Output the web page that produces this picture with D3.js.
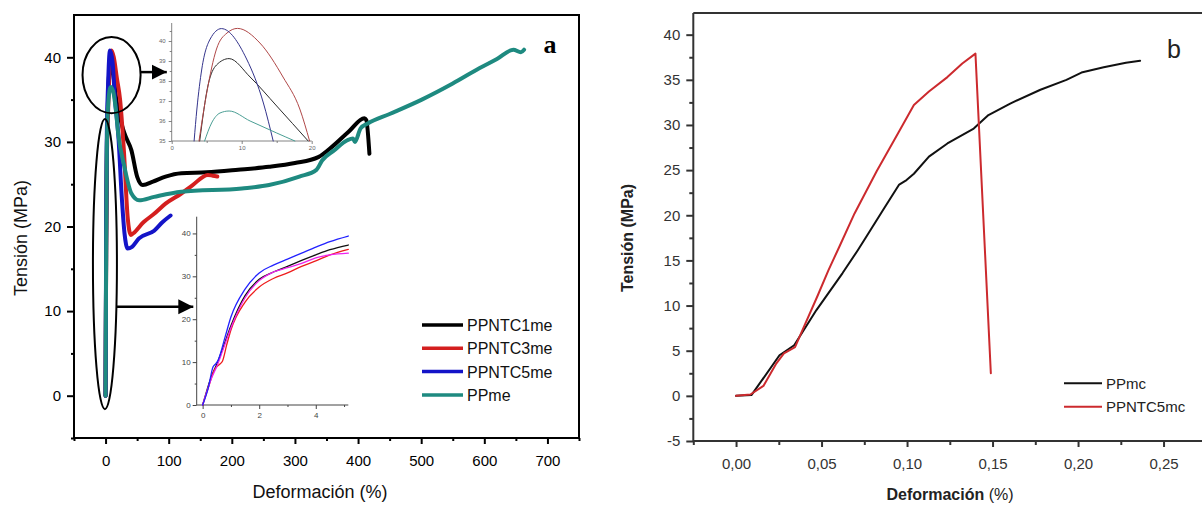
<!DOCTYPE html>
<html>
<head>
<meta charset="utf-8">
<script src="https://cdn.jsdelivr.net/npm/d3@7/dist/d3.min.js"></script>
<style>
  body { margin: 0; background: #fff; }
  text { font-family: "Liberation Sans", Arial, sans-serif; }
</style>
</head>
<body>
<svg id="chart" width="1202" height="506"></svg>
<script>
// ---- panel a: main curves (deformación %, tensión MPa)
const namesA = ["PPNTC1me", "PPNTC3me", "PPNTC5me", "PPme"];
const ppntc1me = [[0,0],[1,18.5],[2,29.3],[3,32.3],[5,37.3],[8,39.1],[12,38],[17,35],[30,31],[41,29],[50,25.9],[59,24.9],[75,25.3],[95,25.9],[120,26.3],[160,26.4],[210,26.7],[259,27.05],[300,27.5],[337,28.2],[360,29.5],[385,31.2],[410,32.8],[413,32.6],[418,28.6]];
const ppntc3me = [[0,0],[1,17.5],[2,27.5],[4,33.6],[6,38],[9.4,40.8],[13,40],[18,37.5],[23,35],[29,29],[35,21.1],[40,19],[44,19.2],[60,20.5],[77,21.5],[95,22.7],[120,23.9],[138,24.9],[162,26.1],[170,26],[177,25.9]];
const ppntc5me = [[0,0],[1,20.5],[2,30.8],[4,36.8],[7,40.8],[11,39.5],[15,35],[20,31],[26,23.1],[30,19.2],[35,17.4],[42,17.6],[53,18.6],[77,19.5],[90,20.5],[103,21.3]];
const ppme = [[0,0],[1,18],[2,29],[4,34.3],[8,36.5],[12,36],[16,34],[20,31],[30,27],[41,23.9],[53,23.1],[77,23.5],[120,24.1],[216,24.5],[259,24.9],[307,25.9],[334,26.7],[343,27.8],[362,29],[383,30.2],[392,30.4],[395,30],[404,31.6],[416,32.2],[450,33.3],[501,35],[550,36.9],[592,38.7],[620,39.8],[646,40.9],[658,40.6],[663,40.9]];
const xTicksA = [0, 100, 200, 300, 400, 500, 600, 700];
const yTicksA = [0, 10, 20, 30, 40];

// ---- panel a: zoom on peaks (top inset)
const peakBlack = [[4.0,35],[5.2,37.8],[6.4,38.8],[8.2,39.12],[11.2,38.2],[15,36.75],[19.5,35]];
const peakRed = [[3.9,35],[5,37.4],[6.4,39.6],[7.9,40.4],[9.4,40.63],[12.6,39.9],[15.9,38.2],[18.3,36.6],[19.7,35]];
const peakBlue = [[3.2,35],[3.6,36.6],[4.3,38.6],[5.5,40.1],[7.1,40.62],[10.7,39.1],[13.1,36.9],[14.5,35]];
const peakTeal = [[4.7,35],[5.7,35.9],[6.9,36.4],[8.2,36.5],[11.2,36.0],[15,35.4],[17.6,35]];
const xTicksPeak = [0, 10, 20];
const yTicksPeak = [35, 36, 37, 38, 39, 40];

// ---- panel a: zoom on elastic zone (bottom inset)
const initBlack = [[0,0],[0.3,6.5],[0.5,9.5],[0.7,13],[1,18.5],[1.5,25.5],[2,29.3],[2.5,31],[3,32.3],[3.5,33.7],[4,35],[4.5,36.2],[5.15,37.3]];
const initRed = [[0,0],[0.2,4],[0.4,8],[0.6,9.5],[0.7,10.2],[0.85,14],[1,17.5],[1.5,24],[2,27.5],[2.5,29.5],[3,30.8],[3.5,32.3],[4,33.6],[4.5,35],[5.15,36.3]];
const initBlue = [[0,0],[0.2,4],[0.37,8.9],[0.45,9.5],[0.55,10.5],[0.8,16],[1,20.5],[1.5,27],[2,30.8],[2.5,32.6],[3,34],[3.5,35.4],[4,36.8],[4.5,38.1],[5.15,39.4]];
const initMagenta = [[0,0],[0.3,6],[0.5,9],[0.7,12.5],[1,18],[1.5,25],[2,29],[2.5,31],[3,32],[3.5,33],[4,34.3],[4.5,35],[5.15,35.4]];
const xTicksInit = [0, 2, 4];
const yTicksInit = [0, 10, 20, 30, 40];

// ---- panel b
const namesB = ["PPmc", "PPNTC5mc"];
const ppmc = [[0,0],[0.0091,0.1],[0.0254,4.5],[0.034,5.6],[0.047,9.5],[0.0623,13.6],[0.0711,16.1],[0.0758,17.5],[0.0867,20.8],[0.0954,23.4],[0.0997,23.9],[0.104,24.6],[0.1128,26.5],[0.1236,27.95],[0.139,29.6],[0.1476,31.1],[0.1606,32.4],[0.178,33.9],[0.1932,35],[0.202,35.8],[0.215,36.4],[0.228,36.9],[0.2363,37.1]];
const ppntc5mc = [[0,0],[0.0084,0.15],[0.016,1.1],[0.0236,3.6],[0.028,4.7],[0.0345,5.4],[0.0389,7.3],[0.0475,11],[0.054,13.9],[0.0606,16.6],[0.0693,20.2],[0.0823,24.9],[0.0954,29.3],[0.104,32.2],[0.1128,33.7],[0.1236,35.3],[0.1323,36.8],[0.14,37.9],[0.149,2.5]];
const xTicksB = [0, 0.05, 0.10, 0.15, 0.20, 0.25];
const yTicksB = [-5, 0, 5, 10, 15, 20, 25, 30, 35, 40];

const svg = d3.select("#chart");

function styleAxis(g, color, width, fontSize) {
    g.select(".domain").remove();
    g.selectAll(".tick line").attr("stroke", color).attr("stroke-width", width);
    g.selectAll(".tick text").attr("fill", color).style("font-size", fontSize + "px");
}

function addAxis(gen, at, color, width, fontSize) {
    const g = svg.append("g").attr("transform", at).call(gen);
    styleAxis(g, color, width, fontSize);
    return g;
}

function drawLine(data, x, y, color, width, curve) {
    svg.append("path")
        .datum(data)
        .attr("fill", "none")
        .attr("stroke", color)
        .attr("stroke-width", width)
        .attr("stroke-linejoin", "round")
        .attr("stroke-linecap", "round")
        .attr("d", d3.line().x(d => x(d[0])).y(d => y(d[1])).curve(curve));
}

// =================== panel a ===================
const xA = d3.scaleLinear().domain([-50, 750]).range([74, 579]);
const yA = d3.scaleLinear().domain([-5, 45]).range([438, 15]);

svg.append("rect")
    .attr("x", xA(-50)).attr("y", yA(45))
    .attr("width", xA(750) - xA(-50)).attr("height", yA(-5) - yA(45))
    .attr("fill", "none").attr("stroke", "#000").attr("stroke-width", 2);

addAxis(d3.axisBottom(xA).tickValues(xTicksA).tickSize(6).tickPadding(11).tickFormat(d3.format("d")),
    `translate(0,${yA(-5)})`, "#000", 2, 15);
addAxis(d3.axisBottom(xA).tickValues(d3.range(-50, 751, 100)).tickSize(3).tickFormat(""),
    `translate(0,${yA(-5)})`, "#000", 2, 15);
addAxis(d3.axisLeft(yA).tickValues(yTicksA).tickSize(7).tickPadding(6).tickFormat(d3.format("d")),
    `translate(${xA(-50)},0)`, "#000", 2, 15);
addAxis(d3.axisLeft(yA).tickValues([-5, 5, 15, 25, 35]).tickSize(3).tickFormat(""),
    `translate(${xA(-50)},0)`, "#000", 2, 15);

svg.append("text")
    .attr("x", 320).attr("y", 498)
    .attr("text-anchor", "middle")
    .style("font-size", "18px").attr("fill", "#111")
    .text("Deformación (%)");
svg.append("text")
    .attr("transform", "translate(27,238) rotate(-90)")
    .attr("text-anchor", "middle")
    .style("font-size", "18px").attr("fill", "#111")
    .text("Tensión (MPa)");
svg.append("text")
    .attr("x", 550).attr("y", 53)
    .attr("text-anchor", "middle")
    .style("font-family", "'Liberation Serif', 'Times New Roman', serif")
    .style("font-weight", "bold").style("font-size", "26px")
    .text("a");

const colorsA = ["#000000", "#d41f1f", "#1414c8", "#1e8a80"];
[ppntc1me, ppntc3me, ppntc5me, ppme].forEach((s, i) =>
    drawLine(s, xA, yA, colorsA[i], 4, d3.curveMonotoneX));

// legend a
namesA.forEach((n, i) => {
    const ly = 325 + i * 23.3;
    svg.append("line")
        .attr("x1", 422).attr("x2", 463).attr("y1", ly).attr("y2", ly)
        .attr("stroke", colorsA[i]).attr("stroke-width", 3.5);
    svg.append("text")
        .attr("x", 467).attr("y", ly + 6)
        .style("font-size", "16px").attr("fill", "#111")
        .text(n);
});

// annotations: ellipses and arrows
svg.append("defs").append("marker")
    .attr("id", "arrow").attr("viewBox", "0 0 10 10")
    .attr("refX", 10).attr("refY", 5)
    .attr("markerUnits", "userSpaceOnUse")
    .attr("markerWidth", 15).attr("markerHeight", 16)
    .attr("orient", "auto")
    .append("path").attr("d", "M0,0L10,5L0,10Z").attr("fill", "#000");

svg.append("ellipse")
    .attr("cx", xA(9.5)).attr("cy", yA(37.9))
    .attr("rx", xA(46) - xA(0)).attr("ry", yA(0) - yA(4.5))
    .attr("fill", "none").attr("stroke", "#000").attr("stroke-width", 2);
svg.append("ellipse")
    .attr("cx", xA(-1)).attr("cy", yA(15.55))
    .attr("rx", xA(19) - xA(0)).attr("ry", yA(0) - yA(17.15))
    .attr("fill", "none").attr("stroke", "#000").attr("stroke-width", 2);
svg.append("line")
    .attr("x1", xA(55.7)).attr("x2", xA(97)).attr("y1", yA(38.25)).attr("y2", yA(38.25))
    .attr("stroke", "#000").attr("stroke-width", 2.5).attr("marker-end", "url(#arrow)");
svg.append("line")
    .attr("x1", xA(18)).attr("x2", xA(139)).attr("y1", yA(10.5)).attr("y2", yA(10.5))
    .attr("stroke", "#000").attr("stroke-width", 2.5).attr("marker-end", "url(#arrow)");

// top inset (peaks)
const xP = d3.scaleLinear().domain([0, 20]).range([171.7, 311.7]);
const yP = d3.scaleLinear().domain([35, 40.9]).range([141, 23]);
svg.append("rect").attr("x", 172).attr("y", 23).attr("width", 140).attr("height", 118).attr("fill", "#fff");
addAxis(d3.axisBottom(xP).tickValues(xTicksPeak).tickSize(3).tickPadding(2).tickFormat(d3.format("d")),
    `translate(0,${yP(35)})`, "#666", 0.8, 6);
addAxis(d3.axisBottom(xP).tickValues([5, 15]).tickSize(2).tickFormat(""),
    `translate(0,${yP(35)})`, "#666", 0.8, 6);
addAxis(d3.axisLeft(yP).tickValues(yTicksPeak).tickSize(3).tickPadding(3).tickFormat(d3.format("d")),
    `translate(${xP(0)},0)`, "#666", 0.8, 6);
addAxis(d3.axisLeft(yP).tickValues([35.5, 36.5, 37.5, 38.5, 39.5, 40.5]).tickSize(2).tickFormat(""),
    `translate(${xP(0)},0)`, "#666", 0.8, 6);
svg.append("line").attr("x1", xP(0)).attr("x2", xP(0)).attr("y1", yP(40.9)).attr("y2", yP(35)).attr("stroke", "#666").attr("stroke-width", 0.8);
svg.append("line").attr("x1", xP(0)).attr("x2", xP(20)).attr("y1", yP(35)).attr("y2", yP(35)).attr("stroke", "#666").attr("stroke-width", 0.8);
const colorsPeak = ["#2a2a2a", "#b04848", "#34348c", "#4a9e94"];
[peakBlack, peakRed, peakBlue, peakTeal].forEach((s, i) =>
    drawLine(s, xP, yP, colorsPeak[i], 1, d3.curveMonotoneX));

// bottom inset (elastic zone)
const xI = d3.scaleLinear().domain([-0.21, 5.15]).range([196.7, 348.3]);
const yI = d3.scaleLinear().domain([0, 43.9]).range([405, 216.7]);
addAxis(d3.axisBottom(xI).tickValues(xTicksInit).tickSize(4).tickPadding(3).tickFormat(d3.format("d")),
    `translate(0,${yI(0)})`, "#444", 1, 8);
addAxis(d3.axisBottom(xI).tickValues([1, 3, 5]).tickSize(2).tickFormat(""),
    `translate(0,${yI(0)})`, "#444", 1, 8);
addAxis(d3.axisLeft(yI).tickValues(yTicksInit).tickSize(4).tickPadding(2).tickFormat(d3.format("d")),
    `translate(${xI(-0.21)},0)`, "#444", 1, 8);
addAxis(d3.axisLeft(yI).tickValues([5, 15, 25, 35]).tickSize(2).tickFormat(""),
    `translate(${xI(-0.21)},0)`, "#444", 1, 8);
svg.append("line").attr("x1", xI(-0.21)).attr("x2", xI(-0.21)).attr("y1", yI(43.9)).attr("y2", yI(0)).attr("stroke", "#444").attr("stroke-width", 1);
svg.append("line").attr("x1", xI(-0.21)).attr("x2", xI(5.15)).attr("y1", yI(0)).attr("y2", yI(0)).attr("stroke", "#444").attr("stroke-width", 1);
const colorsInit = ["#111111", "#ee1c1c", "#ee22ee", "#2222ff"];
[initBlack, initRed, initMagenta, initBlue].forEach((s, i) =>
    drawLine(s, xI, yI, colorsInit[i], 1.3, d3.curveMonotoneX));

// =================== panel b ===================
const xB = d3.scaleLinear().domain([-0.025, 0.275]).range([693.3, 1206.3]);
const yB = d3.scaleLinear().domain([-5, 42.4]).range([441, 13]);
const fmtB = d => d3.format(".2f")(d).replace(".", ",");

addAxis(d3.axisBottom(xB).tickValues(xTicksB).tickSize(6).tickPadding(11).tickFormat(fmtB),
    `translate(0,${yB(-5)})`, "#333", 2, 15);
addAxis(d3.axisBottom(xB).tickValues([-0.025, 0.025, 0.075, 0.125, 0.175, 0.225]).tickSize(4).tickFormat(""),
    `translate(0,${yB(-5)})`, "#333", 2, 15);
addAxis(d3.axisLeft(yB).tickValues(yTicksB).tickSize(7).tickPadding(6).tickFormat(d => String(d)),
    `translate(${xB(-0.025)},0)`, "#333", 2, 15);
addAxis(d3.axisLeft(yB).tickValues(d3.range(-2.5, 42.5, 5)).tickSize(4).tickFormat(""),
    `translate(${xB(-0.025)},0)`, "#333", 2, 15);
svg.append("line").attr("x1", xB(-0.025)).attr("x2", 1202).attr("y1", yB(-5)).attr("y2", yB(-5)).attr("stroke", "#333").attr("stroke-width", 2);
svg.append("line").attr("x1", xB(-0.025)).attr("x2", 1202).attr("y1", yB(42.4)).attr("y2", yB(42.4)).attr("stroke", "#333").attr("stroke-width", 2);
svg.append("line").attr("x1", xB(-0.025)).attr("x2", xB(-0.025)).attr("y1", yB(42.4)).attr("y2", yB(-5)).attr("stroke", "#333").attr("stroke-width", 2);

const titleB = svg.append("text")
    .attr("x", 950).attr("y", 500)
    .attr("text-anchor", "middle")
    .style("font-size", "16px").attr("fill", "#222");
titleB.append("tspan").style("font-weight", "bold").text("Deformación");
titleB.append("tspan").text(" (%)");
svg.append("text")
    .attr("transform", "translate(633,238) rotate(-90)")
    .attr("text-anchor", "middle")
    .style("font-size", "16px").style("font-weight", "bold").attr("fill", "#222")
    .text("Tensión (MPa)");
svg.append("text")
    .attr("x", 1174).attr("y", 58)
    .attr("text-anchor", "middle")
    .style("font-size", "25px").attr("fill", "#222")
    .text("b");

const colorsB = ["#111111", "#cc2a2e"];
[ppmc, ppntc5mc].forEach((s, i) => drawLine(s, xB, yB, colorsB[i], 2, d3.curveLinear));

namesB.forEach((n, i) => {
    const ly = 383.3 + i * 23.4;
    svg.append("line")
        .attr("x1", 1064).attr("x2", 1102).attr("y1", ly).attr("y2", ly)
        .attr("stroke", colorsB[i]).attr("stroke-width", 2);
    svg.append("text")
        .attr("x", 1106).attr("y", ly + 5.5)
        .style("font-size", "15px").attr("fill", "#222")
        .text(n);
});
</script>
</body>
</html>
